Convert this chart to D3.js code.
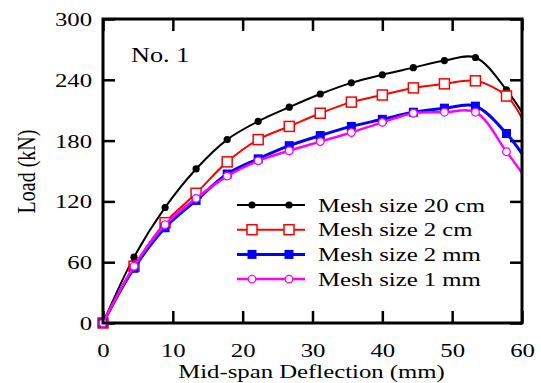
<!DOCTYPE html>
<html>
<head>
<meta charset="utf-8">
<script src="https://cdn.jsdelivr.net/npm/d3@7"></script>
<style>
 body { margin: 0; background: #fff; }
 text { font-family: "Liberation Serif", "Times New Roman", serif; fill: #000; }
</style>
</head>
<body>
<script>
// deflection (mm) at the marker positions, last one is the plot edge (no marker)
var deflection = [0, 4.44, 8.89, 13.33, 17.78, 22.22, 26.67, 31.11, 35.56, 40, 44.44, 48.89, 53.33, 57.78, 60];
// load (kN) for each mesh size
var load20cm = [0, 65, 114, 152, 181, 199, 213, 226, 237, 245, 252, 259, 262, 230, 208];
var load2cm  = [0, 56, 99, 128, 159, 181, 194, 207, 218, 225, 232, 236, 239, 224, 202];
var load2mm  = [0, 54, 94, 121, 147, 162, 175, 185, 194, 201, 208, 212, 214, 187, 167];
var load1mm  = [0, 56, 97, 123, 145, 160, 170, 179, 188, 198, 207, 208, 208, 169, 148];
var seriesNames = ["Mesh size 20 cm", "Mesh size 2 cm", "Mesh size 2 mm", "Mesh size 1 mm"];
var xTicks = [0, 10, 20, 30, 40, 50, 60];
var yTicks = [0, 60, 120, 180, 240, 300];

var W = 541, H = 383;
var pLeft = 103, pRight = 522, pTop = 19, pBottom = 323;
var sx = 1.27; // text in the picture is stretched sideways

var series = [
 {name: seriesNames[0], values: load20cm, color: "#000000", lw: 2, marker: "dot"},
 {name: seriesNames[1], values: load2cm, color: "#ff0000", lw: 2, marker: "openSquare"},
 {name: seriesNames[2], values: load2mm, color: "#0000ff", lw: 3, marker: "square"},
 {name: seriesNames[3], values: load1mm, color: "#ff00ff", lw: 2.5, marker: "openCircle"}
];

var x = d3.scaleLinear().domain([0, 60]).range([pLeft, pRight]);
var y = d3.scaleLinear().domain([0, 300]).range([pBottom, pTop]);

var svg = d3.select("body").append("svg")
 .attr("width", W)
 .attr("height", H);

svg.append("clipPath").attr("id", "plotclip")
 .append("rect")
 .attr("x", pLeft).attr("y", pTop - 5)
 .attr("width", pRight - pLeft).attr("height", pBottom - pTop + 5);

// axes with inward ticks
var gl = svg.append("g").attr("transform", "translate(" + pLeft + ",0)")
 .call(d3.axisLeft(y).tickValues(yTicks).tickSize(-12).tickPadding(0));
var gb = svg.append("g").attr("transform", "translate(0," + pBottom + ")")
 .call(d3.axisBottom(x).tickValues(xTicks).tickSize(-12).tickPadding(0));
svg.append("g").attr("transform", "translate(" + pRight + ",0)")
 .call(d3.axisRight(y).tickValues(yTicks).tickSize(-12).tickFormat(""));
svg.append("g").attr("transform", "translate(0," + pTop + ")")
 .call(d3.axisTop(x).tickValues(xTicks).tickSize(-12).tickFormat(""));

svg.selectAll(".domain").remove();
svg.selectAll(".tick line").attr("stroke", "#000").attr("stroke-width", 2.5);

gl.selectAll(".tick text")
 .attr("font-size", 19.5)
 .attr("font-family", "Liberation Serif")
 .attr("x", -11 / sx)
 .attr("dy", "0.33em")
 .attr("transform", "scale(" + sx + ",1)");
gb.selectAll(".tick text")
 .attr("font-size", 19.5)
 .attr("font-family", "Liberation Serif")
 .attr("y", 34)
 .attr("dy", 0)
 .attr("transform", "scale(" + sx + ",1)");

// lines
var line = d3.line()
 .x(function(d) { return x(d[0]); })
 .y(function(d) { return y(d[1]); })
 .curve(d3.curveCatmullRom.alpha(0.5));

var plot = svg.append("g");

function drawMarker(g, type, color, cx, cy) {
 if (type == "dot") {
  g.append("circle").attr("cx", cx).attr("cy", cy).attr("r", 3.6).attr("fill", color);
 } else if (type == "openSquare") {
  g.append("rect").attr("x", cx - 5).attr("y", cy - 5).attr("width", 10).attr("height", 10)
   .attr("fill", "#fff").attr("stroke", color).attr("stroke-width", 1.5);
 } else if (type == "square") {
  g.append("rect").attr("x", cx - 4.5).attr("y", cy - 4.5).attr("width", 9).attr("height", 9)
   .attr("fill", color);
 } else {
  g.append("circle").attr("cx", cx).attr("cy", cy).attr("r", 3.8)
   .attr("fill", "#fff").attr("stroke", color).attr("stroke-width", 1.3);
 }
}

series.forEach(function(s) {
 var pts = deflection.map(function(d, i) { return [d, s.values[i]]; });
 plot.append("path")
  .attr("clip-path", "url(#plotclip)")
  .attr("fill", "none")
  .attr("stroke", s.color)
  .attr("stroke-width", s.lw)
  .attr("stroke-linejoin", "round")
  .attr("d", line(pts));
 var mg = plot.append("g");
 // markers everywhere except the last point at the plot edge
 pts.slice(0, pts.length - 1).forEach(function(p) {
  drawMarker(mg, s.marker, s.color, x(p[0]), y(p[1]));
 });
});

// frame
svg.append("rect")
 .attr("x", pLeft).attr("y", pTop)
 .attr("width", pRight - pLeft).attr("height", pBottom - pTop)
 .attr("fill", "none").attr("stroke", "#000").attr("stroke-width", 3);

// legend
var legend = svg.append("g");
series.forEach(function(s, i) {
 var ly = 205 + i * 24.7;
 legend.append("line")
  .attr("x1", 237).attr("x2", 305).attr("y1", ly).attr("y2", ly)
  .attr("stroke", s.color).attr("stroke-width", s.lw);
 drawMarker(legend, s.marker, s.color, 252, ly);
 drawMarker(legend, s.marker, s.color, 289, ly);
 legend.append("text")
  .attr("transform", "translate(318," + (ly + 6.5) + ") scale(" + sx + ",1)")
  .attr("font-size", 19.5)
  .text(s.name);
});

// labels
svg.append("text")
 .attr("transform", "translate(131,62) scale(1.22,1)")
 .attr("font-size", 21.5)
 .text("No. 1");

svg.append("text")
 .attr("transform", "translate(311.5,378) scale(" + sx + ",1)")
 .attr("text-anchor", "middle")
 .attr("font-size", 19.5)
 .text("Mid-span Deflection (mm)");

svg.append("text")
 .attr("transform", "translate(34.5,171.5) scale(" + sx + ",1) rotate(-90)")
 .attr("text-anchor", "middle")
 .attr("font-size", 20)
 .text("Load (kN)");
</script>
</body>
</html>
